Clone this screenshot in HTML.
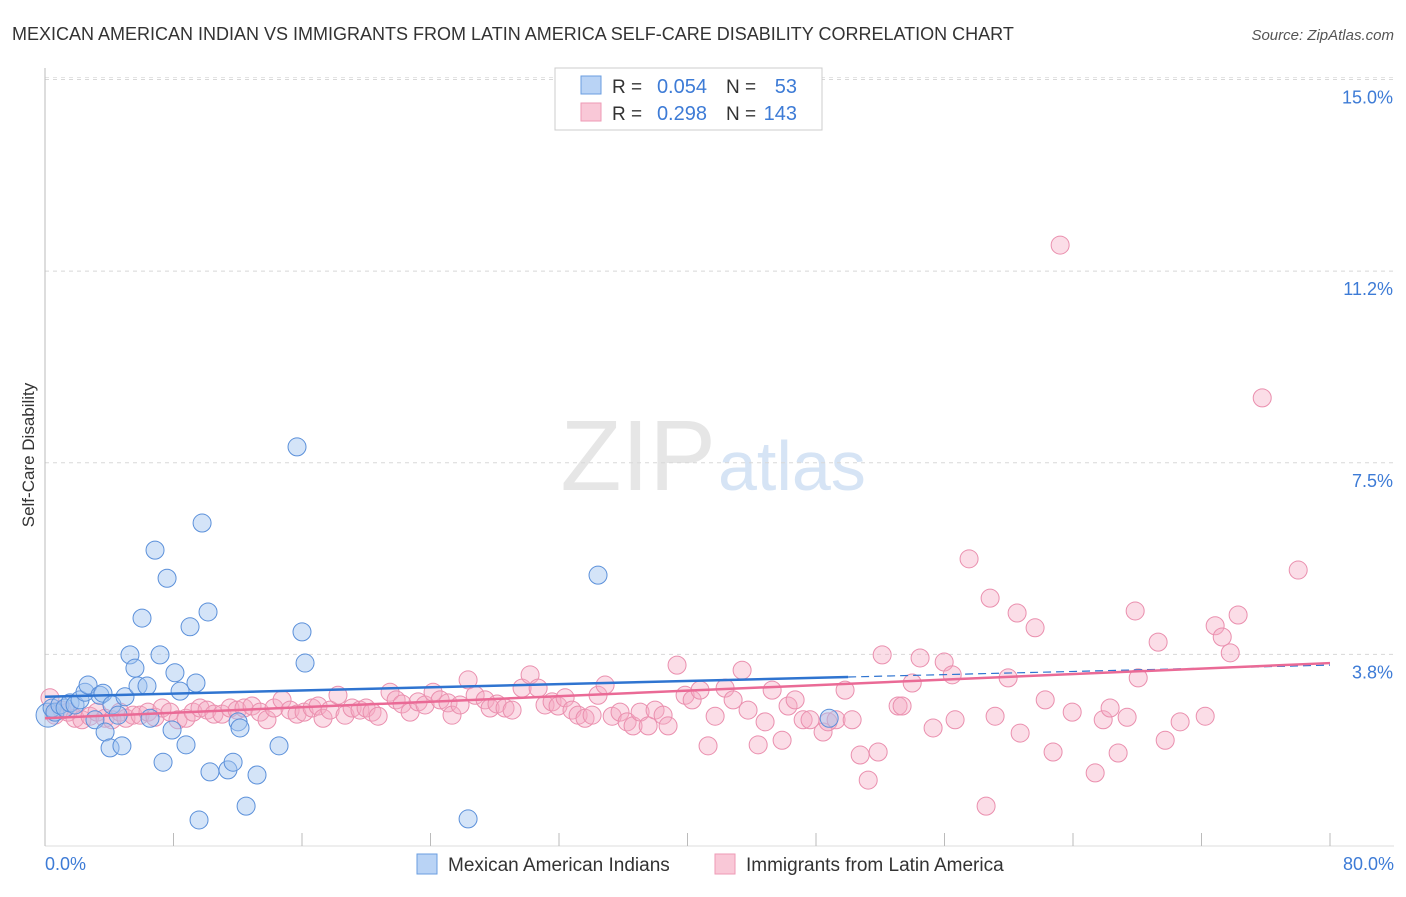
<!DOCTYPE html>
<html><head><meta charset="utf-8"><style>
body{margin:0;background:#fff;font-family:"Liberation Sans",sans-serif}
svg text{font-family:"Liberation Sans",sans-serif}
</style></head><body>
<svg id="chart" width="1406" height="892" xmlns="http://www.w3.org/2000/svg">
<text x="12" y="40" font-size="18" fill="#333">MEXICAN AMERICAN INDIAN VS IMMIGRANTS FROM LATIN AMERICA SELF-CARE DISABILITY CORRELATION CHART</text>
<text x="1394" y="40" font-size="15" fill="#555" text-anchor="end" font-style="italic">Source: ZipAtlas.com</text>
<text x="716" y="490" font-size="100" fill="#e6e6e6" text-anchor="end" font-family="Liberation Serif">ZIP</text>
<text x="718" y="490" font-size="70" fill="#d6e4f5">atlas</text>
<g id="grid"></g>
<g id="axes"></g>
<g id="pts"></g>
<g id="trend"></g>
<text x="34" y="455" font-size="17" fill="#333" transform="rotate(-90 34 455)" text-anchor="middle">Self-Care Disability</text>
<text x="45" y="870" font-size="18" fill="#3d7bd6">0.0%</text>
<text x="1394" y="870" font-size="18" fill="#3d7bd6" text-anchor="end">80.0%</text>
<g>
<rect x="555" y="68" width="267" height="62" fill="#fff" stroke="#ccc"/>
<rect x="581" y="76" width="20" height="18" fill="#b9d3f5" stroke="#6a9ee0"/>
<rect x="581" y="103" width="20" height="18" fill="#f9c8d7" stroke="#ee9ab5"/>
<text x="612" y="93" font-size="19" fill="#333">R =</text>
<text x="707" y="93" font-size="20" fill="#3d7bd6" text-anchor="end">0.054</text>
<text x="726" y="93" font-size="19" fill="#333">N =</text>
<text x="797" y="93" font-size="20" fill="#3d7bd6" text-anchor="end">53</text>
<text x="612" y="120" font-size="19" fill="#333">R =</text>
<text x="707" y="120" font-size="20" fill="#3d7bd6" text-anchor="end">0.298</text>
<text x="726" y="120" font-size="19" fill="#333">N =</text>
<text x="797" y="120" font-size="20" fill="#3d7bd6" text-anchor="end">143</text>
</g>
<g>
<rect x="417" y="854" width="20" height="20" fill="#b9d3f5" stroke="#6a9ee0"/>
<text x="448" y="871" font-size="19" fill="#333">Mexican American Indians</text>
<rect x="715" y="854" width="20" height="20" fill="#f9c8d7" stroke="#ee9ab5"/>
<text x="746" y="871" font-size="19" fill="#333">Immigrants from Latin America</text>
</g>
</svg>
<script>
const yTicks=[3.75,7.5,11.25,15];
const yTickLabels=["3.8%","7.5%","11.2%","15.0%"];
const xTicks=[0,8,16,24,32,40,48,56,64,72,80];
const blueX=[0.19,0.44,0.62,0.93,1.25,1.56,1.87,2.18,2.49,2.68,3.11,3.42,3.61,3.74,4.05,4.17,4.55,4.79,4.98,5.29,5.60,5.79,6.04,6.35,6.54,6.85,7.16,7.35,7.60,7.91,8.09,8.41,8.78,9.03,9.40,9.59,9.78,10.15,10.27,11.39,11.71,12.02,12.14,12.52,13.20,14.57,15.69,16.00,16.19,26.34,34.43,48.82];
const blueY=[2.56,2.70,2.62,2.76,2.70,2.80,2.76,2.86,3.01,3.15,2.47,2.95,2.99,2.23,1.92,2.76,2.56,1.96,2.92,3.74,3.48,3.13,4.46,3.13,2.50,5.79,3.74,1.64,5.24,2.27,3.39,3.03,1.98,4.29,3.19,0.51,6.32,4.58,1.45,1.49,1.64,2.43,2.31,0.78,1.39,1.96,7.81,4.19,3.58,0.53,5.30,2.50];
const pinkX=[0.31,0.62,1.06,1.43,1.87,2.30,2.80,3.24,3.74,4.17,4.67,5.04,5.48,5.92,6.41,6.85,7.29,7.78,8.28,8.78,9.22,9.65,10.09,10.52,11.02,11.52,11.96,12.39,12.89,13.39,13.82,14.26,14.76,15.26,15.69,16.13,16.63,17.00,17.31,17.75,18.24,18.68,19.12,19.61,19.99,20.36,20.74,21.48,21.86,22.23,22.73,23.23,23.66,24.16,24.60,25.09,25.34,25.84,26.34,26.78,27.40,27.71,28.14,28.64,29.08,29.70,30.20,30.70,31.13,31.57,31.94,32.38,32.81,33.19,33.62,34.06,34.43,34.87,35.31,35.80,36.24,36.61,37.05,37.55,37.98,38.48,38.79,39.35,39.85,40.29,40.78,41.28,41.72,42.34,42.84,43.40,43.77,44.40,44.83,45.27,45.89,46.26,46.70,47.20,47.63,48.44,48.75,49.25,49.81,50.25,50.75,51.25,51.87,52.12,53.11,53.36,53.99,54.48,55.29,55.98,56.48,56.66,57.53,58.59,58.84,59.15,59.96,60.52,60.71,61.64,62.27,62.76,63.20,63.95,65.38,65.88,66.31,66.81,67.37,67.87,68.06,69.30,69.74,70.67,72.23,72.85,73.29,73.79,74.28,75.78,78.02];
const pinkY=[2.90,2.56,2.66,2.62,2.50,2.47,2.54,2.62,2.50,2.47,2.62,2.50,2.56,2.56,2.62,2.52,2.70,2.62,2.47,2.50,2.62,2.70,2.66,2.58,2.58,2.70,2.66,2.70,2.74,2.62,2.47,2.70,2.86,2.66,2.58,2.62,2.70,2.74,2.50,2.66,2.95,2.56,2.70,2.66,2.70,2.62,2.54,3.01,2.86,2.78,2.62,2.82,2.76,3.01,2.86,2.80,2.56,2.76,3.25,2.95,2.86,2.70,2.78,2.70,2.66,3.09,3.35,3.09,2.76,2.82,2.74,2.90,2.66,2.56,2.50,2.56,2.95,3.15,2.54,2.62,2.43,2.35,2.62,2.35,2.66,2.56,2.35,3.54,2.95,2.86,3.05,1.96,2.54,3.09,2.86,3.44,2.66,1.98,2.43,3.05,2.07,2.74,2.86,2.47,2.47,2.23,2.43,2.47,3.05,2.47,1.78,1.29,1.84,3.74,2.74,2.74,3.19,3.68,2.31,3.60,3.35,2.47,5.62,0.78,4.85,2.54,3.29,4.56,2.21,4.27,2.86,1.84,11.76,2.62,1.43,2.47,2.70,1.82,2.52,4.60,3.29,3.99,2.07,2.43,2.54,4.31,4.09,3.78,4.52,8.77,5.40];
const blueTrend=[2.92,3.54];
const pinkTrend=[2.50,3.58];
const NS='http://www.w3.org/2000/svg';
const sx=v=>45+v*(1330-45)/80;
const sy=v=>846-v*51.1;
function mk(tag,attrs,parent){const e=document.createElementNS(NS,tag);for(const k in attrs)e.setAttribute(k,attrs[k]);document.getElementById(parent).appendChild(e);return e;}
yTicks.forEach((t,i)=>{
 const l=mk('line',{x1:45,x2:1394,y1:sy(t),y2:sy(t),stroke:'#d8d8d8','stroke-dasharray':'4,4'},'grid');
 
 
 const tx=mk('text',{x:1393,y:sy(t)+24,'font-size':18,fill:'#3d7bd6','text-anchor':'end'},'grid');
 tx.textContent=yTickLabels[i];
 
 
});
const topGrid=mk('line',{x1:45,x2:1394,y1:sy(15)-2,y2:sy(15)-2,stroke:'#e4e4e4','stroke-dasharray':'4,4'},'grid');


const ya=mk('line',{x1:45,x2:45,y1:68,y2:846,stroke:'#bbb'},'axes');


const xa=mk('line',{x1:45,x2:1394,y1:846,y2:846,stroke:'#ddd'},'axes');


xTicks.forEach(t=>{
 const l=mk('line',{x1:sx(t),x2:sx(t),y1:833,y2:846,stroke:'#bbb'},'axes');
 
 
});
pinkX.forEach((x,i)=>{
 const c=mk('circle',{cx:sx(x),cy:sy(pinkY[i]),r:9,fill:'rgba(246,170,196,0.4)',stroke:'#ea8fae','stroke-width':1},'pts');
 
 
});
blueX.forEach((x,i)=>{
 const c=mk('circle',{cx:sx(x),cy:sy(blueY[i]),r:i===0?12:9,fill:'rgba(160,196,240,0.45)',stroke:'#5b90da','stroke-width':1},'pts');
 
 
});
const bmid=blueTrend[0]+(blueTrend[1]-blueTrend[0])*50/80;
const b1=mk('line',{x1:sx(0),y1:sy(blueTrend[0]),x2:sx(50),y2:sy(bmid),stroke:'#2f74d0','stroke-width':2.5},'trend');


const b2=mk('line',{x1:sx(50),y1:sy(bmid),x2:sx(80),y2:sy(blueTrend[1]),stroke:'#2f74d0','stroke-width':1.2,'stroke-dasharray':'8,5'},'trend');


const p1=mk('line',{x1:sx(0),y1:sy(pinkTrend[0]),x2:sx(80),y2:sy(pinkTrend[1]),stroke:'#ea6a96','stroke-width':2.5},'trend');


</script>
</body></html>
